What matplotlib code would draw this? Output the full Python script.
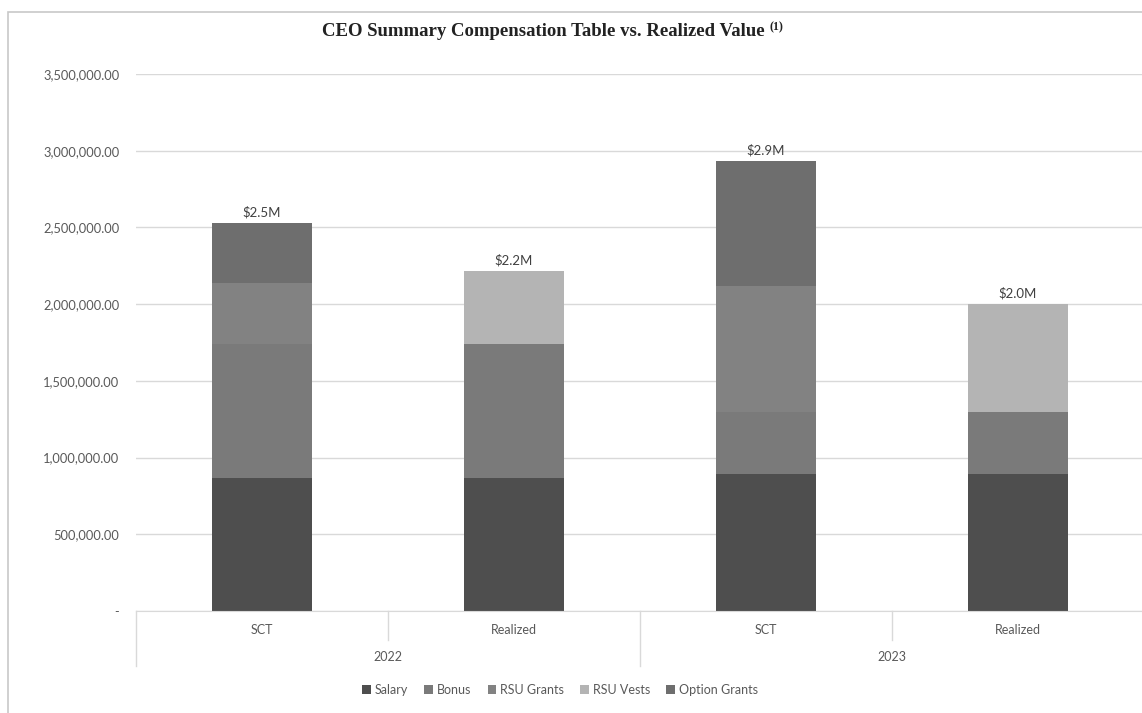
import matplotlib
matplotlib.use("Agg")
import matplotlib.pyplot as plt
from matplotlib.patches import Rectangle
import numpy as np

categories = ["SCT", "Realized", "SCT", "Realized"]
years = ["2022", "2023"]
series_names = ["Salary", "Bonus", "RSU Grants", "RSU Vests", "Option Grants"]
salary = [865000, 865000, 891000, 891000]
bonus = [875000, 875000, 408000, 408000]
rsu_grants = [395000, 0, 822000, 0]
rsu_vests = [0, 473000, 0, 702000]
option_grants = [391000, 0, 814000, 0]
yticks = [0, 500000, 1000000, 1500000, 2000000, 2500000, 3000000, 3500000]

colors = ["#4e4e4e", "#7a7a7a", "#828282", "#b4b4b4", "#6e6e6e"]
font = "Lato"
txt = "#595959"

W, H = 1142, 713
fig = plt.figure(figsize=(W / 100, H / 100), dpi=100)
fig.patch.set_facecolor("white")

# frame of chart area
fig.patches.append(Rectangle((8 / W, -0.01), 1.1, (H - 12) / H + 0.01,
                             transform=fig.transFigure, fill=False,
                             edgecolor="#c8c8c8", linewidth=1.2))

left, right = 136, 1144
bottom, top = 611, 74
ax = fig.add_axes([left / W, (H - bottom) / H, (right - left) / W, (bottom - top) / H])

x = np.arange(len(categories))
data = [salary, bonus, rsu_grants, rsu_vests, option_grants]
base = np.zeros(len(categories))
for name, vals, c in zip(series_names, data, colors):
    v = np.array(vals, dtype=float)
    ax.bar(x, v, 0.4, bottom=base, color=c, label=name, zorder=3)
    base += v

for xi, t in zip(x, base):
    ax.text(xi, t + 30000, f"${t/1e6:.1f}M", ha="center", va="bottom",
            fontsize=9.5, color="#404040", family=font, zorder=4)

ax.set_xlim(-0.5, 3.5)
ax.set_ylim(0, 3500000)
ax.set_yticks(yticks)
ax.set_yticklabels([("-" if v == 0 else f"{v:,.2f}") for v in yticks],
                   family=font, fontsize=9.3, color=txt)
ax.yaxis.grid(True, color="#d9d9d9", linewidth=1, zorder=0)
ax.tick_params(axis="y", length=0, pad=12)
ax.tick_params(axis="x", length=0, labelbottom=False)
for s in ["left", "right", "top"]:
    ax.spines[s].set_visible(False)
ax.spines["bottom"].set_color("#d9d9d9")
ax.spines["bottom"].set_zorder(5)

# category labels and separators
ytr = ax.get_xaxis_transform()
for xi, c in zip(x, categories):
    ax.text(xi, -0.035, c, transform=ytr, ha="center", va="center",
            family=font, fontsize=9, color=txt)
for i, yr in enumerate(years):
    ax.text(2 * i + 0.5, -0.085, yr, transform=ytr, ha="center", va="center",
            family=font, fontsize=9, color=txt)
for xs in [-0.5, 1.5, 3.5]:
    ax.plot([xs, xs], [0, -0.103], transform=ytr, color="#d9d9d9",
            linewidth=1, clip_on=False)
for xs in [0.5, 2.5]:
    ax.plot([xs, xs], [0, -0.054], transform=ytr, color="#d9d9d9",
            linewidth=1, clip_on=False)

# title with superscript
title_y = 1 - 32 / H
t_main = fig.text(322 / W, title_y, "CEO Summary Compensation Table vs. Realized Value",
                  ha="left", va="center", family="Liberation Serif",
                  fontweight="bold", fontsize=13.5, color="#222222")
fig.canvas.draw()
bb = t_main.get_window_extent()
fig.text((bb.x1 + 5) / W, title_y + 5 / H, "(1)", ha="left", va="center",
         family="Liberation Serif", fontweight="bold", fontsize=8.5, color="#222222")

leg = fig.legend(loc="center", bbox_to_anchor=(560 / W, 1 - 690 / H), ncol=5,
                 frameon=False, prop={"family": font, "size": 9},
                 handlelength=0.7, handleheight=0.7, handletextpad=0.3,
                 columnspacing=1.3)
for t in leg.get_texts():
    t.set_color(txt)

fig.savefig("out.png", dpi=100, facecolor="white")
